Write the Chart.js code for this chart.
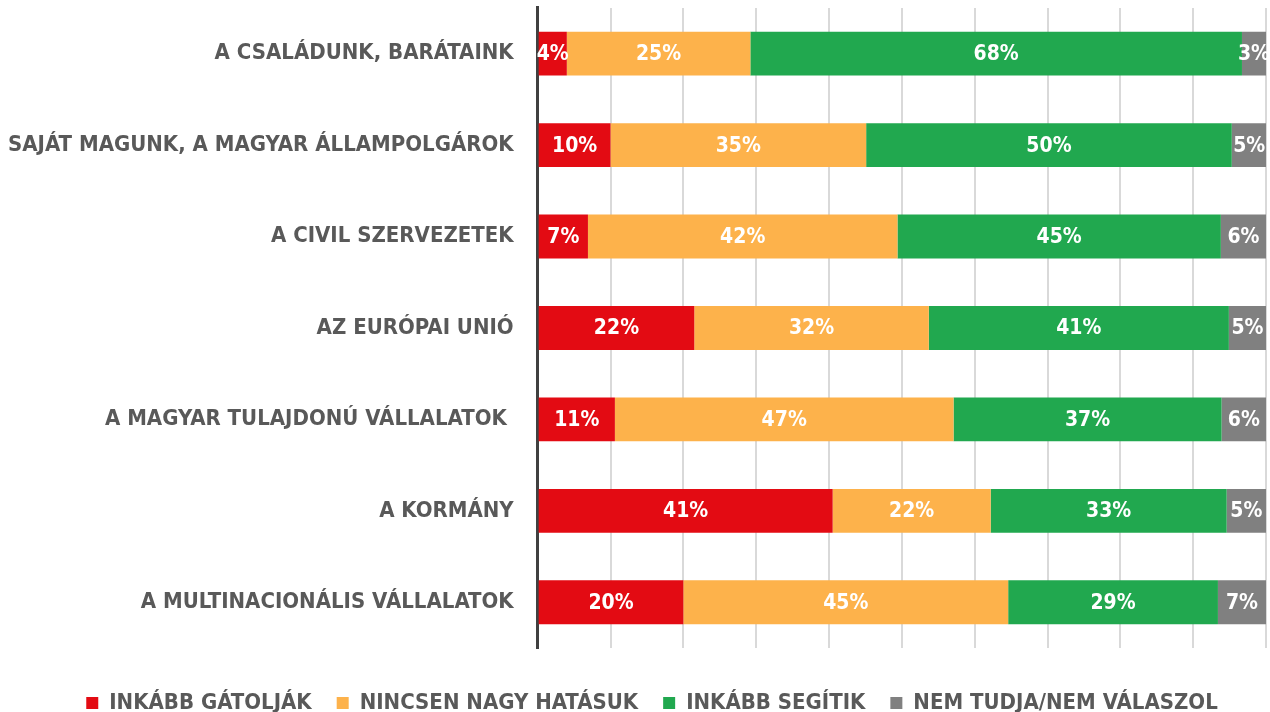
<!DOCTYPE html>
<html>
<head>
<meta charset="utf-8">
<script src="https://cdn.jsdelivr.net/npm/chart.js@4"></script>
<style>
  html, body { margin: 0; padding: 0; background: #fff; }
  #wrap { width: 1270px; height: 712px; position: relative; }
</style>
</head>
<body>
<div id="wrap"><canvas id="chart"></canvas></div>
<script>
const categories = [
  'A CSALÁDUNK, BARÁTAINK',
  'SAJÁT MAGUNK, A MAGYAR ÁLLAMPOLGÁROK',
  'A CIVIL SZERVEZETEK',
  'AZ EURÓPAI UNIÓ',
  'A MAGYAR TULAJDONÚ VÁLLALATOK ',
  'A KORMÁNY',
  'A MULTINACIONÁLIS VÁLLALATOK'
];
const seriesNames = ['INKÁBB GÁTOLJÁK', 'NINCSEN NAGY HATÁSUK', 'INKÁBB SEGÍTIK', 'NEM TUDJA/NEM VÁLASZOL'];
const seriesColors = ['#e30b13', '#fdb24b', '#21a84f', '#808080'];

const hinder = [4, 10, 6.9, 21.5, 10.6, 40.5, 20];
const noEffect = [25.2, 35.1, 42.5, 32.2, 46.5, 21.7, 44.6];
const helps = [67.5, 50.2, 44.4, 41.2, 36.8, 32.4, 28.8];
const dontKnow = [3.3, 4.8, 6.2, 5.1, 6.1, 5.4, 6.6];
const shownLabels = [
  [4, 10, 7, 22, 11, 41, 20],
  [25, 35, 42, 32, 47, 22, 45],
  [68, 50, 45, 41, 37, 33, 29],
  [3, 5, 6, 5, 6, 5, 7]
];

const FONT = '"DejaVu Sans Condensed", "DejaVu Sans", sans-serif';

const segLabels = {
  id: 'segLabels',
  afterDatasetsDraw(chart) {
    const ctx = chart.ctx;
    ctx.save();
    ctx.fillStyle = '#ffffff';
    ctx.font = 'bold 21px ' + FONT;
    ctx.textAlign = 'center';
    ctx.textBaseline = 'middle';
    chart.data.datasets.forEach((ds, di) => {
      chart.getDatasetMeta(di).data.forEach((bar, i) => {
        const cx = (bar.x + bar.base) / 2;
        ctx.fillText(shownLabels[di][i] + '%', cx, bar.y + 1);
      });
    });
    ctx.restore();
  }
};

// move the legend a bit right and down, as in the original
const legendShift = {
  id: 'legendShift',
  afterLayout(chart) {
    const lg = chart.legend;
    lg.left += 15;
    lg.right += 15;
    lg.top += 19;
    lg.bottom += 19;
  }
};

new Chart(document.getElementById('chart'), {
  type: 'bar',
  data: {
    labels: categories,
    datasets: [hinder, noEffect, helps, dontKnow].map((d, i) => ({
      label: seriesNames[i],
      data: d,
      backgroundColor: seriesColors[i],
      borderWidth: 0,
      categoryPercentage: 0.96,
      barPercentage: 0.5
    }))
  },
  options: {
    indexAxis: 'y',
    responsive: true,
    maintainAspectRatio: false,
    animation: false,
    layout: { padding: { top: 0, right: 4, left: 8, bottom: 7 } },
    scales: {
      x: {
        stacked: true,
        min: 0,
        max: 100,
        ticks: { display: false, stepSize: 10 },
        grid: { color: '#d9d9d9', lineWidth: 2, drawTicks: false },
        border: { display: false }
      },
      y: {
        stacked: true,
        ticks: {
          color: '#595959',
          font: { family: FONT, size: 22, weight: 'bold', lineHeight: 0.72 },
          padding: 0
        },
        grid: { display: false, drawTicks: true, tickLength: 24 },
        border: { display: true, color: '#404040', width: 3 }
      }
    },
    plugins: {
      legend: {
        position: 'bottom',
        labels: {
          color: '#595959',
          font: { family: FONT, size: 22, weight: 'bold' },
          boxWidth: 12,
          boxHeight: 12,
          padding: 25,
          useBorderRadius: false
        }
      },
      tooltip: { enabled: false }
    }
  },
  plugins: [segLabels, legendShift]
});
</script>
</body>
</html>
